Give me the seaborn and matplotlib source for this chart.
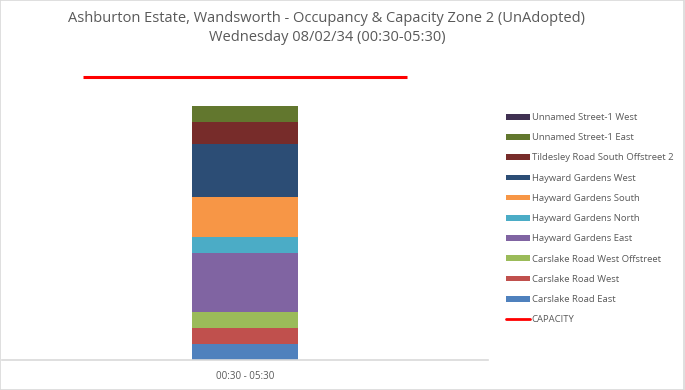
import matplotlib
matplotlib.use("Agg")
import matplotlib.pyplot as plt
from matplotlib.patches import Patch, Rectangle
from matplotlib.lines import Line2D
import numpy as np
import pandas as pd
import seaborn as sns

title = ("Ashburton Estate, Wandsworth - Occupancy & Capacity Zone 2 (UnAdopted)\n"
         "Wednesday 08/02/34 (00:30-05:30)")
period = ["00:30 - 05:30"]

# stacking order, bottom to top
streets = [
    "Carslake Road East",
    "Carslake Road West",
    "Carslake Road West Offstreet",
    "Hayward Gardens East",
    "Hayward Gardens North",
    "Hayward Gardens South",
    "Hayward Gardens West",
    "Tildesley Road South Offstreet 2",
    "Unnamed Street-1 East",
    "Unnamed Street-1 West",
]
occupancy = [3, 3, 3, 11, 3, 7.5, 10, 4, 3, 0]
capacity = [53]

colors = ["#4F81BD", "#C0504D", "#9BBB59", "#8064A2", "#4BACC6",
          "#F79646", "#2C4D75", "#772C2A", "#62772E", "#403152"]

sns.set_theme(style="white")
plt.rcParams["font.family"] = ["Open Sans", "DejaVu Sans"]
text_col = "#595959"

fig = plt.figure(figsize=(6.85, 3.9), dpi=100)
ax = fig.add_axes([2 / 685, 30 / 390, 486 / 685, 294 / 390])

tops = np.cumsum(occupancy)
# draw cumulative totals from the top layer down so each segment shows
for i in range(len(streets) - 1, -1, -1):
    df = pd.DataFrame({"x": [0.0], "y": [tops[i]]})
    sns.barplot(data=df, x="x", y="y", native_scale=True, color=colors[i],
                saturation=1, width=0.218, ax=ax, linewidth=0, errorbar=None)

ax.plot([-1 / 3, 1 / 3], [capacity[0], capacity[0]], color="#FF0000", lw=2.2,
        solid_capstyle="butt")

ax.set_xlim(-0.5, 0.5)
ax.set_ylim(0, 55)
ax.set_xticks([0])
ax.set_xticklabels(period, fontsize=7, color=text_col)
ax.set_yticks([])
ax.set_xlabel("")
ax.set_ylabel("")
ax.tick_params(axis="x", length=0, pad=8)
for side in ["top", "right", "left"]:
    ax.spines[side].set_visible(False)
ax.spines["bottom"].set_color("#D9D9D9")
ax.spines["bottom"].set_linewidth(1.2)

fig.text(327 / 685, 1 - 28 / 390, title, ha="center", va="center",
         fontsize=10.5, color=text_col, linespacing=1.45)

handles = [Patch(facecolor=colors[i], edgecolor="none") for i in range(len(streets) - 1, -1, -1)]
labels = [streets[i] for i in range(len(streets) - 1, -1, -1)]
handles.append(Line2D([0], [0], color="#FF0000", lw=2))
labels.append("CAPACITY")
leg = fig.legend(handles, labels, loc="upper left",
                 bbox_to_anchor=(506 / 685, 1 - 113 / 390),
                 frameon=False, fontsize=6.8, labelcolor=text_col,
                 handlelength=2.5, handleheight=0.55, handletextpad=0.2,
                 labelspacing=1.19, borderaxespad=0, borderpad=0)

fig.add_artist(Rectangle((0, 0), 1 - 1.5 / 685, 1, transform=fig.transFigure,
                         fill=False, edgecolor="#D9D9D9", lw=1.2))

fig.savefig("out.png", dpi=100)
